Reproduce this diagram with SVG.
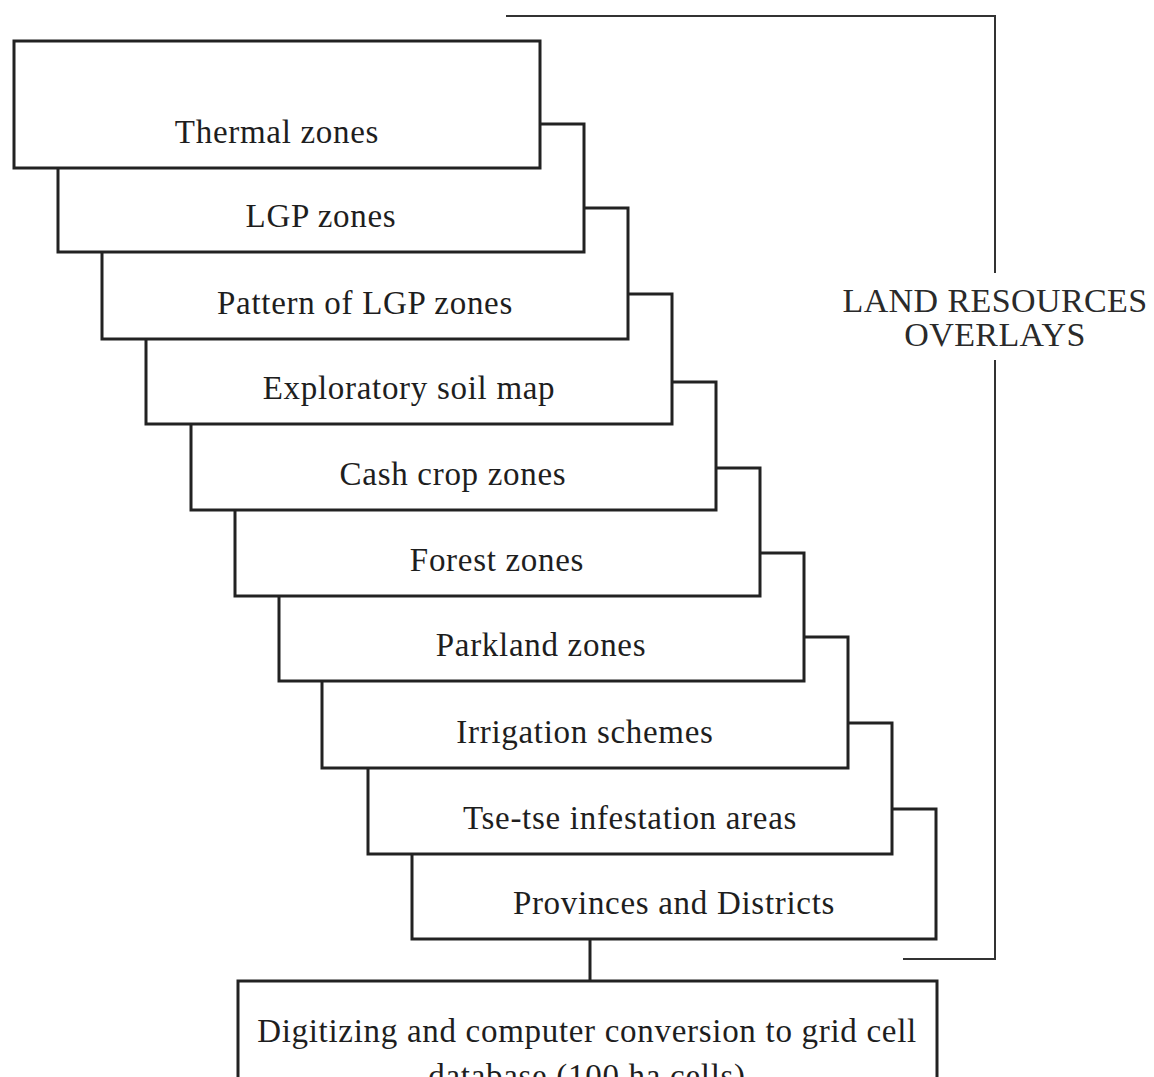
<svg xmlns="http://www.w3.org/2000/svg" width="1154" height="1077" viewBox="0 0 1154 1077">
  <style>
    .box { fill: #ffffff; stroke: #222222; stroke-width: 3; }
    .lbl { font-family: "Liberation Serif", "Times New Roman", serif; font-size: 33px; letter-spacing: 0.7px; fill: #1e1e1e; text-anchor: middle; }
    .side { font-family: "Liberation Serif", "Times New Roman", serif; font-size: 34px; letter-spacing: 0.4px; fill: #2a2a2a; text-anchor: middle; }
    .link { fill: none; stroke: #222222; stroke-width: 3; }
    .brace { fill: none; stroke: #333333; stroke-width: 2; }
  </style>
  <rect width="1154" height="1077" fill="#ffffff"/>

  <!-- overlay stack: drawn back to front so each layer tucks under the one above -->
  <g id="provinces-districts">
    <rect class="box" x="412" y="809" width="524" height="130"/>
    <text class="lbl" x="674" y="914">Provinces and Districts</text>
  </g>
  <g id="tsetse-areas">
    <rect class="box" x="368" y="723" width="524" height="131"/>
    <text class="lbl" x="630" y="829">Tse-tse infestation areas</text>
  </g>
  <g id="irrigation-schemes">
    <rect class="box" x="322" y="637" width="526" height="131"/>
    <text class="lbl" x="585" y="743">Irrigation schemes</text>
  </g>
  <g id="parkland-zones">
    <rect class="box" x="279" y="553" width="525" height="128"/>
    <text class="lbl" x="541" y="656">Parkland zones</text>
  </g>
  <g id="forest-zones">
    <rect class="box" x="235" y="468" width="525" height="128"/>
    <text class="lbl" x="497" y="571">Forest zones</text>
  </g>
  <g id="cash-crop-zones">
    <rect class="box" x="191" y="382" width="525" height="128"/>
    <text class="lbl" x="453" y="485">Cash crop zones</text>
  </g>
  <g id="soil-map">
    <rect class="box" x="146" y="294" width="526" height="130"/>
    <text class="lbl" x="409" y="399">Exploratory soil map</text>
  </g>
  <g id="lgp-pattern">
    <rect class="box" x="102" y="208" width="526" height="131"/>
    <text class="lbl" x="365" y="314">Pattern of LGP zones</text>
  </g>
  <g id="lgp-zones">
    <rect class="box" x="58" y="124" width="526" height="128"/>
    <text class="lbl" x="321" y="227">LGP zones</text>
  </g>
  <g id="thermal-zones">
    <rect class="box" x="14" y="41" width="526" height="127"/>
    <text class="lbl" x="277" y="143">Thermal zones</text>
  </g>

  <g id="digitizing">
    <rect class="box" x="238" y="981" width="699" height="130"/>
    <text class="lbl" x="587" y="1042">Digitizing and computer conversion to grid cell</text>
    <text class="lbl" x="587" y="1087">database (100 ha cells)</text>
  </g>

  <g id="overlays-label">
    <text class="side" x="995" y="312">LAND RESOURCES</text>
    <text class="side" x="995" y="346">OVERLAYS</text>
  </g>

  <g id="connectors">
    <line class="link" x1="590" y1="939" x2="590" y2="981"/>
    <polyline class="brace" points="506,16 995,16 995,273"/>
    <polyline class="brace" points="995,360 995,959 903,959"/>
  </g>
</svg>
